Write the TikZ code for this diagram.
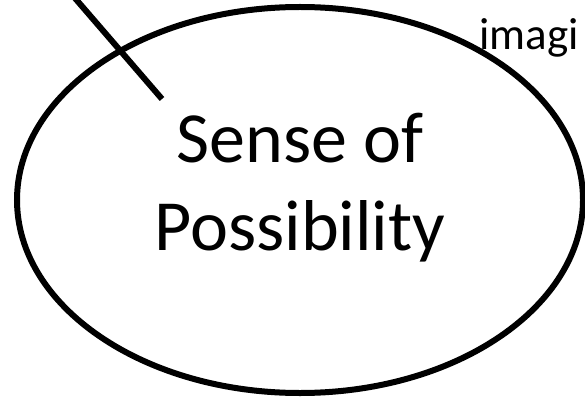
\documentclass[tikz,border=0pt]{standalone}
\usepackage{fontspec}
\setmainfont{Carlito}
\usetikzlibrary{shapes.geometric}
\begin{document}
\begin{tikzpicture}[x=1pt,y=-1pt,
  oval/.style={ellipse, draw=black, line width=6pt, inner sep=0pt, outer sep=0pt,
    minimum width=566pt, minimum height=386pt},
  bigtext/.style={font=\fontsize{72}{88}\selectfont, align=center, inner sep=0pt},
  smalltext/.style={font=\fontsize{45}{54}\selectfont, inner sep=0pt},
  stroke/.style={line width=6pt, line cap=butt}]
\useasboundingbox (0,0) rectangle (585,398);
\node[oval] (oval) at (300,200) {};
\node[bigtext, anchor=base] (label) at (300,250) {Sense of\\Possibility};
\node[smalltext, anchor=base west] (imag) at (479,50) {imagi};
\coordinate (lt) at (74,-3);
\coordinate (lb) at (162,99);
\draw[stroke] (lt) -- (lb);
\end{tikzpicture}
\end{document}
